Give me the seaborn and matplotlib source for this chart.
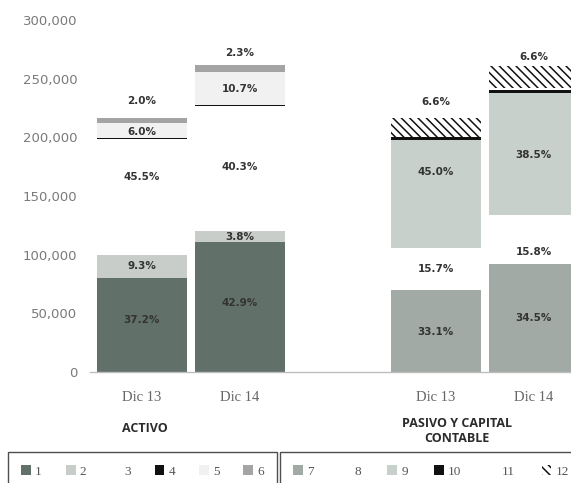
import matplotlib
matplotlib.use("Agg")
import matplotlib.pyplot as plt
import matplotlib.transforms as mtransforms
from matplotlib.patches import Patch
import numpy as np
import pandas as pd
import seaborn as sns

# ---------------- data ----------------
bar_ids = ["A13", "A14", "P13", "P14"]
tick_text = ["Dic 13", "Dic 14", "", "Dic 13", "Dic 14"]
group_titles = ["ACTIVO", "PASIVO Y CAPITAL\nCONTABLE"]
legend_activo = ["1", "2", "3", "4", "5", "6"]
legend_pasivo = ["7", "8", "9", "10", "11", "12"]

# Activo segments (Dic 13, Dic 14)
act_1 = [80000, 110500]
act_2 = [20000, 10000]
act_3 = [98500, 106000]
act_4 = [1000, 1000]
act_5 = [13000, 28000]
act_6 = [4300, 6000]
# Pasivo y capital segments (Dic 13, Dic 14)
pas_7 = [70000, 92000]
pas_8 = [35700, 41500]
pas_9 = [92300, 104500]
pas_10 = [2000, 2500]
pas_11 = [0, 1500]
pas_12 = [16500, 19000]

lab_A13 = ["37.2%", "9.3%", "45.5%", None, "6.0%", "2.0%"]
lab_A14 = ["42.9%", "3.8%", "40.3%", None, "10.7%", "2.3%"]
lab_P13 = ["33.1%", "15.7%", "45.0%", None, None, "6.6%"]
lab_P14 = ["34.5%", "15.8%", "38.5%", None, None, "6.6%"]

# ---------------- style ----------------
act_colors = ["#62706a", "#c9cdca", "#ffffff", "#111111", "#f1f1f1", "#a4a4a4"]
pas_colors = ["#a1aaa5", "#ffffff", "#c8d0cc", "#111111", "#ffffff", "#ffffff"]
pas_hatch = [None, None, None, None, None, "\\\\\\\\"]
# label placement: fraction inside segment, or ('above', offset points)
place = {
    "A13": [0.55, 0.5, 0.67, None, 0.42, ("above", 12)],
    "A14": [0.53, 0.45, 0.51, None, 0.48, ("above", 8.5)],
    "P13": [0.49, 0.5, 0.70, None, None, ("above", 11.5)],
    "P14": [0.50, 0.24, 0.49, None, None, ("above", 6)],
}

sns.set_theme(style="white")
plt.rcParams["font.family"] = ["DejaVu Sans"]
plt.rcParams["hatch.linewidth"] = 1.1

W, H = 571, 483
fig = plt.figure(figsize=(W / 100, H / 100), dpi=100)
ax = fig.add_axes([90 / W, 1 - 372 / H, 1 - 90 / W, (372 - 20) / H])

order = ["A13", "A14", "gap", "P13", "P14"]
act_segs = [act_1, act_2, act_3, act_4, act_5, act_6]
pas_segs = [pas_7, pas_8, pas_9, pas_10, pas_11, pas_12]
act_cum = np.cumsum(np.array(act_segs), axis=0)
pas_cum = np.cumsum(np.array(pas_segs), axis=0)

for k in reversed(range(6)):
    df_a = pd.DataFrame({"bar": ["A13", "A14"], "cum": act_cum[k]})
    sns.barplot(data=df_a, x="bar", y="cum", order=order, color=act_colors[k],
                saturation=1, width=0.92, linewidth=0, ax=ax, errorbar=None)
    df_p = pd.DataFrame({"bar": ["P13", "P14"], "cum": pas_cum[k]})
    kw = {}
    if pas_hatch[k]:
        kw = dict(hatch=pas_hatch[k], edgecolor="#111111")
    sns.barplot(data=df_p, x="bar", y="cum", order=order, color=pas_colors[k],
                saturation=1, width=0.92, linewidth=0, ax=ax, errorbar=None, **kw)

# value labels
labels = {"A13": lab_A13, "A14": lab_A14, "P13": lab_P13, "P14": lab_P14}
for bid in bar_ids:
    xi = order.index(bid)
    if bid.startswith("A"):
        segs = act_segs; j = 0 if bid == "A13" else 1
    else:
        segs = pas_segs; j = 0 if bid == "P13" else 1
    bottoms = np.concatenate([[0], np.cumsum([s[j] for s in segs])[:-1]])
    for k, txt in enumerate(labels[bid]):
        if txt is None:
            continue
        p = place[bid][k]
        h = segs[k][j]
        if isinstance(p, tuple):
            ax.annotate(txt, xy=(xi, bottoms[k] + h), xytext=(0, p[1]),
                        textcoords="offset points", ha="center", va="center",
                        fontsize=7.5, fontweight="bold", color="#333333")
        else:
            ax.text(xi, bottoms[k] + p * h, txt, ha="center", va="center",
                    fontsize=7.5, fontweight="bold", color="#333333")

ax.set_xlim(-0.53, 4.38)
ax.set_ylim(0, 300000)
ax.set_yticks(np.arange(0, 300001, 50000))
ax.set_yticklabels([f"{v:,.0f}" for v in np.arange(0, 300001, 50000)],
                   fontsize=9.5, color="#7a7a7a")
ax.set_xticks(range(5))
ax.set_xticklabels(tick_text, family="Liberation Serif", fontsize=10.5, color="#666666")
ax.tick_params(axis="both", length=0)
ax.tick_params(axis="y", pad=9)
ax.tick_params(axis="x", pad=14)
ax.set_xlabel("")
ax.set_ylabel("")
for s in ["top", "right", "left"]:
    ax.spines[s].set_visible(False)
ax.spines["bottom"].set_color("#bdbdbd")
ax.spines["bottom"].set_linewidth(1.0)

# group titles
trans = mtransforms.blended_transform_factory(ax.transData, fig.transFigure)
ax.text(0.03, 1 - 428 / H, group_titles[0], transform=trans, ha="center", va="center",
        fontsize=9, fontweight="bold", color="#2b2b2b", family="Open Sans")
ax.text(3.22, 1 - 431 / H, group_titles[1], transform=trans, ha="center", va="center",
        fontsize=9, fontweight="bold", color="#2b2b2b", family="Open Sans",
        linespacing=1.15)

# legends
def handles(colors, hatches):
    hs = []
    for c, h in zip(colors, hatches):
        if h:
            hs.append(Patch(facecolor=c, edgecolor="#111111", hatch=h, linewidth=0))
        else:
            hs.append(Patch(facecolor=c, edgecolor="none", linewidth=0))
    return hs

leg_kw = dict(loc="upper left", mode="expand", ncol=6, frameon=True, fancybox=False,
              handlelength=0.75, handleheight=0.75, handletextpad=0.3, borderpad=1.0,
              prop={"family": "Liberation Serif", "size": 9.5}, borderaxespad=0)
leg1 = fig.legend(handles(act_colors, [None] * 6), legend_activo,
                  bbox_to_anchor=(8 / W, 1 - 452 / H, (277 - 8) / W, 0.0001), **leg_kw)
leg2 = fig.legend(handles(pas_colors, pas_hatch), legend_pasivo,
                  bbox_to_anchor=(280 / W, 1 - 452 / H, (582 - 280) / W, 0.0001), **leg_kw)
for lg in (leg1, leg2):
    fr = lg.get_frame()
    fr.set_edgecolor("#222222")
    fr.set_linewidth(1.0)
    fr.set_facecolor("white")
    for t in lg.get_texts():
        t.set_color("#555555")

fig.savefig("out.png", dpi=100)
